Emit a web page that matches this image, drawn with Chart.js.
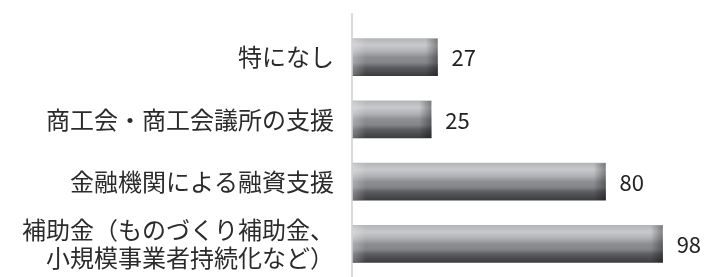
<!DOCTYPE html>
<html>
<head>
<meta charset="utf-8">
<script src="https://cdn.jsdelivr.net/npm/chart.js@4/dist/chart.umd.min.js"></script>
<style>
  html, body { margin: 0; padding: 0; background: #fff; }
  #wrap { width: 710px; height: 277px; }
</style>
</head>
<body>
<div id="wrap"><canvas id="support"></canvas></div>
<script>
// Data
const labels = [
  "特になし",
  "商工会・商工会議所の支援",
  "金融機関による融資支援",
  ["補助金（ものづくり補助金、", "小規模事業者持続化など）"],
];
const counts = [27, 25, 80, 98];
const axisMax = 100;

const FONT = "'Noto Sans CJK JP', 'Noto Sans', sans-serif";
const BAR = 37;
const LABEL_COL = 352; // width reserved for category labels

// metallic vertical gradient for each bar
function barFill(ctx) {
  const chart = ctx.chart;
  const y = chart.scales.y;
  if (!chart.chartArea || !y) return "#8e8f93";
  const c = y.getPixelForValue(ctx.dataIndex);
  const g = chart.ctx.createLinearGradient(0, c - BAR / 2, 0, c + BAR / 2);
  g.addColorStop(0, "#b4b5b8");
  g.addColorStop(0.18, "#c8c9cc");
  g.addColorStop(0.35, "#b0b1b4");
  g.addColorStop(0.5, "#8d8e92");
  g.addColorStop(0.65, "#848589");
  g.addColorStop(0.78, "#5b5c60");
  g.addColorStop(1, "#3c3d40");
  return g;
}

// shading at the ends + value labels
const barExtras = {
  id: "barExtras",
  afterDatasetsDraw(chart) {
    const ctx = chart.ctx;
    const meta = chart.getDatasetMeta(0);
    ctx.save();
    meta.data.forEach((el, i) => {
      const top = el.y - el.height / 2;
      const left = Math.min(el.base, el.x);
      const right = Math.max(el.base, el.x);
      let g = ctx.createLinearGradient(left, 0, left + 14, 0);
      g.addColorStop(0, "rgba(255,255,255,0.28)");
      g.addColorStop(1, "rgba(255,255,255,0)");
      ctx.fillStyle = g;
      ctx.fillRect(left, top, 14, el.height);
      g = ctx.createLinearGradient(right - 12, 0, right, 0);
      g.addColorStop(0, "rgba(0,0,0,0)");
      g.addColorStop(1, "rgba(0,0,0,0.35)");
      ctx.fillStyle = g;
      ctx.fillRect(right - 12, top, 12, el.height);

      ctx.fillStyle = "#222";
      ctx.font = "22px " + FONT;
      ctx.textAlign = "left";
      ctx.textBaseline = "middle";
      ctx.fillText(String(counts[i]), right + 14, el.y + 1);
    });
    // axis line
    const x0 = chart.scales.x.getPixelForValue(0);
    ctx.strokeStyle = "#cfcfcf";
    ctx.lineWidth = 1.5;
    ctx.beginPath();
    ctx.moveTo(x0, chart.chartArea.top - 13);
    ctx.lineTo(x0, chart.height);
    ctx.stroke();
    ctx.restore();
  },
};

new Chart(document.getElementById("support"), {
  type: "bar",
  data: {
    labels: labels,
    datasets: [
      {
        data: counts,
        backgroundColor: barFill,
        borderWidth: 0,
        barThickness: BAR,
      },
    ],
  },
  options: {
    indexAxis: "y",
    responsive: true,
    maintainAspectRatio: false,
    animation: false,
    layout: { padding: { top: 26, bottom: 2, right: 41, left: 0 } },
    scales: {
      x: {
        min: 0,
        max: axisMax,
        display: false,
      },
      y: {
        grid: { display: false },
        border: { display: false },
        afterFit(scale) {
          // fixed label column, and don't let the two-line label squeeze the plot
          scale.width = LABEL_COL;
          scale.paddingTop = 0;
          scale.paddingBottom = 0;
        },
        ticks: {
          color: "#2b2b2b",
          padding: 10,
          font: { family: FONT, size: 24, lineHeight: 1.2 },
        },
      },
    },
    plugins: {
      legend: { display: false },
      tooltip: { enabled: false },
    },
  },
  plugins: [barExtras],
});
</script>
</body>
</html>
